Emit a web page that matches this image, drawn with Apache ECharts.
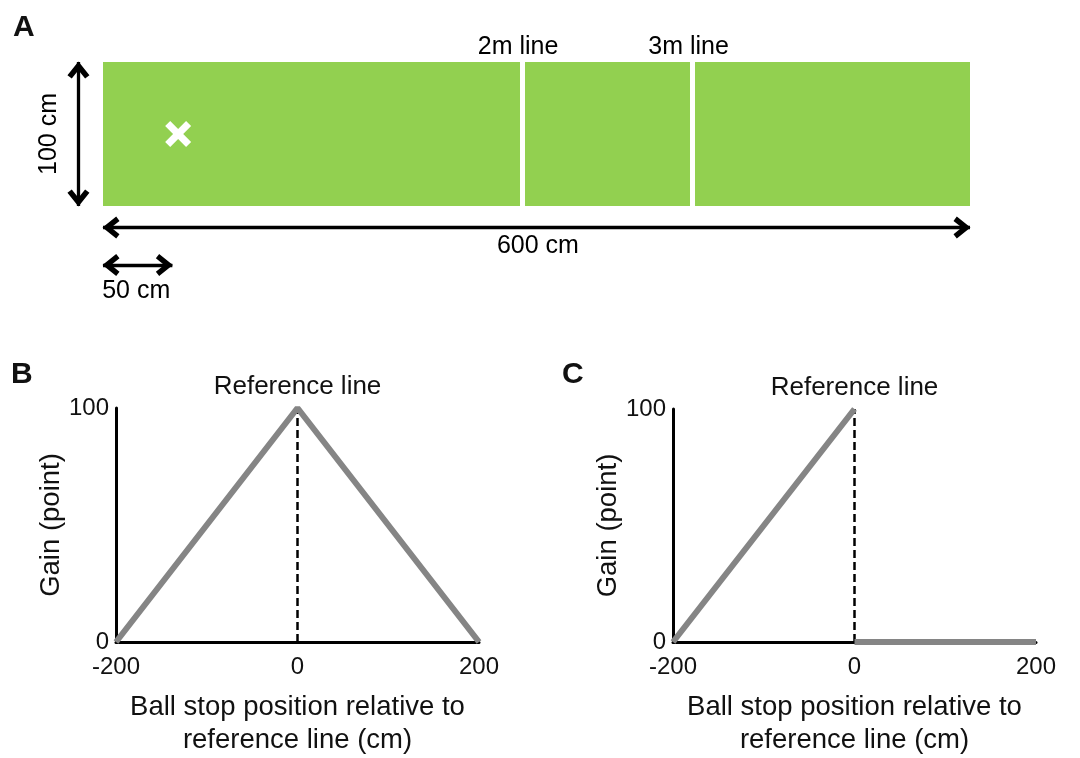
<!DOCTYPE html>
<html>
<head>
<meta charset="utf-8">
<script src="https://cdn.jsdelivr.net/npm/echarts@6/dist/echarts.min.js"></script>
<style>
  html, body { margin: 0; padding: 0; background: #ffffff; }
  #chart { width: 1080px; height: 758px; }
</style>
</head>
<body>
<div id="chart"></div>
<script>
// ---------- Panel A: field layout (cm) ----------
const fieldLength = 600;
const fieldWidth = 100;
const courtLineNames = ['2m line', '3m line'];
const courtLineX = [290, 408];
const startPoint = [52, 50];
const dimArrowFrom = [[-17, 0], [0, -15], [0, -41]];
const dimArrowTo = [[-17, 100], [600, -15], [48, -41]];
const dimLabelText = ['100 cm', '600 cm', '50 cm'];
const dimLabelPos = [[-37, 50], [301, -28], [23, -59]];
const courtLabelY = 110;

// ---------- Panel B: symmetric gain ----------
const posB = [-200, 0, 200];
const gainB = [0, 100, 0];

// ---------- Panel C: one-sided gain ----------
const posC = [-200, 0, null, 0, 200];
const gainC = [0, 100, null, 0, 0];

const refX = 0;
const refLabel = 'Reference line';
const xTickMin = -200, xTickMax = 200, xTickStep = 200;
const yTickMin = 0, yTickMax = 100, yTickStep = 100;
const xTitle = 'Ball stop position relative to\nreference line (cm)';
const yTitle = 'Gain (point)';

const FONT = '"Liberation Sans", Arial, Helvetica, sans-serif';
const TXT = '#111111';
const GRAY = '#858585';
const GREEN = '#92D050';

const zip = (xs, ys) => xs.map((x, i) => (x === null || ys[i] === null) ? ['-', '-'] : [x, ys[i]]);

const chevron = 'path://M9,0 L18,11.5 L14.46,14.27 L9,7.3 L3.54,14.27 L0,11.5 Z';
const crossMark = 'path://M3.9,0 L10,6.1 L16.1,0 L20,3.9 L13.9,10 L20,16.1 L16.1,20 L10,13.9 L3.9,20 L0,16.1 L6.1,10 L0,3.9 Z';

function gainXAxis(gi) {
  return {
    type: 'value', gridIndex: gi, min: xTickMin, max: xTickMax, interval: xTickStep,
    axisLine: { show: true, onZero: false, lineStyle: { color: '#000', width: 3 } },
    axisTick: { show: false }, splitLine: { show: false },
    axisLabel: { color: TXT, fontSize: 24, fontFamily: FONT, margin: 13 },
    name: xTitle, nameLocation: 'middle', nameGap: 49,
    nameTextStyle: { color: TXT, fontSize: 27.5, fontFamily: FONT, lineHeight: 33, align: 'center' }
  };
}
function gainYAxis(gi) {
  return {
    type: 'value', gridIndex: gi, min: yTickMin, max: yTickMax, interval: yTickStep,
    axisLine: { show: true, onZero: false, lineStyle: { color: '#000', width: 3 } },
    axisTick: { show: false }, splitLine: { show: false },
    axisLabel: { color: TXT, fontSize: 24, fontFamily: FONT, margin: 7 },
    name: yTitle, nameLocation: 'middle', nameGap: 48,
    nameTextStyle: { color: TXT, fontSize: 27.5, fontFamily: FONT }
  };
}
function refMarkLine() {
  return {
    silent: true, symbol: 'none',
    lineStyle: { color: '#000', width: 2.5, type: [8, 4] },
    label: { show: true, position: 'end', formatter: refLabel, color: TXT, fontSize: 26, fontFamily: FONT, distance: 8 },
    data: [[{ coord: [refX, yTickMin] }, { coord: [refX, yTickMax] }]],
    z: 1
  };
}
function arrowEnd(coord) {
  return { coord: coord, symbol: chevron, symbolSize: [22, 17], symbolOffset: [0, 8], symbolKeepAspect: false };
}

const chart = echarts.init(document.getElementById('chart'), null, { renderer: 'canvas' });
chart.setOption({
  animation: false,
  backgroundColor: '#ffffff',
  title: [
    { text: 'A', left: 13, top: 13, padding: 0, textStyle: { fontSize: 30, fontWeight: 'bold', fontFamily: FONT, color: TXT } },
    { text: 'B', left: 11, top: 360, padding: 0, textStyle: { fontSize: 30, fontWeight: 'bold', fontFamily: FONT, color: TXT } },
    { text: 'C', left: 562, top: 360, padding: 0, textStyle: { fontSize: 30, fontWeight: 'bold', fontFamily: FONT, color: TXT } }
  ],
  grid: [
    { left: 16.3, top: 33.2, width: 1040.4, height: 288, containLabel: false },
    { left: 116, top: 408, width: 363, height: 234, containLabel: false },
    { left: 673, top: 409, width: 363, height: 234, containLabel: false }
  ],
  xAxis: [
    { type: 'value', gridIndex: 0, min: -60, max: 660, show: false },
    gainXAxis(1),
    gainXAxis(2)
  ],
  yAxis: [
    { type: 'value', gridIndex: 0, min: -80, max: 120, show: false },
    gainYAxis(1),
    gainYAxis(2)
  ],
  series: [
    {
      name: 'field', type: 'scatter', xAxisIndex: 0, yAxisIndex: 0, silent: true,
      symbol: crossMark, symbolSize: 26,
      itemStyle: { color: '#ffffff', opacity: 1 },
      data: [startPoint],
      z: 3,
      markArea: {
        silent: true,
        itemStyle: { color: GREEN, opacity: 1, borderWidth: 0 },
        data: [[{ coord: [0, 0] }, { coord: [fieldLength, fieldWidth] }]]
      }
    },
    {
      name: 'court lines', type: 'scatter', xAxisIndex: 0, yAxisIndex: 0, silent: true, data: [],
      markLine: {
        silent: true, symbol: 'none', animation: false,
        lineStyle: { color: '#ffffff', width: 5, type: 'solid' },
        label: { show: false },
        data: courtLineX.map(x => [{ coord: [x, 0] }, { coord: [x, fieldWidth] }])
      }
    },
    {
      name: 'dimension arrows', type: 'scatter', xAxisIndex: 0, yAxisIndex: 0, silent: true, data: [],
      markLine: {
        silent: true, animation: false,
        symbol: chevron,
        symbolSize: [22, 17],
        lineStyle: { color: '#000000', width: 3.3, type: 'solid' },
        label: { show: false },
        data: dimArrowFrom.map((f, i) => [arrowEnd(f), arrowEnd(dimArrowTo[i])])
      }
    },
    {
      name: 'labels A', type: 'scatter', xAxisIndex: 0, yAxisIndex: 0, silent: true,
      symbolSize: 4, itemStyle: { color: 'rgba(0,0,0,0)', opacity: 1 },
      label: { show: true, position: 'inside', formatter: p => p.value[2], color: '#000000', opacity: 1, fontSize: 25, fontFamily: FONT },
      data: dimLabelPos.map((p, i) => ({
        value: [p[0], p[1], dimLabelText[i]],
        label: i === 0 ? { rotate: 90 } : {}
      })).concat(courtLineX.map((x, i) => ({
        value: [x, courtLabelY, courtLineNames[i]],
        label: { offset: [-4, 0] }
      })))
    },
    {
      name: 'gain B', type: 'line', xAxisIndex: 1, yAxisIndex: 1, silent: true,
      symbol: 'none', lineStyle: { color: GRAY, width: 6 }, z: 3,
      data: zip(posB, gainB),
      markLine: refMarkLine()
    },
    {
      name: 'gain C', type: 'line', xAxisIndex: 2, yAxisIndex: 2, silent: true,
      symbol: 'none', connectNulls: false, lineStyle: { color: GRAY, width: 6 }, z: 3,
      data: zip(posC, gainC),
      markLine: refMarkLine()
    }
  ]
});
</script>
</body>
</html>
